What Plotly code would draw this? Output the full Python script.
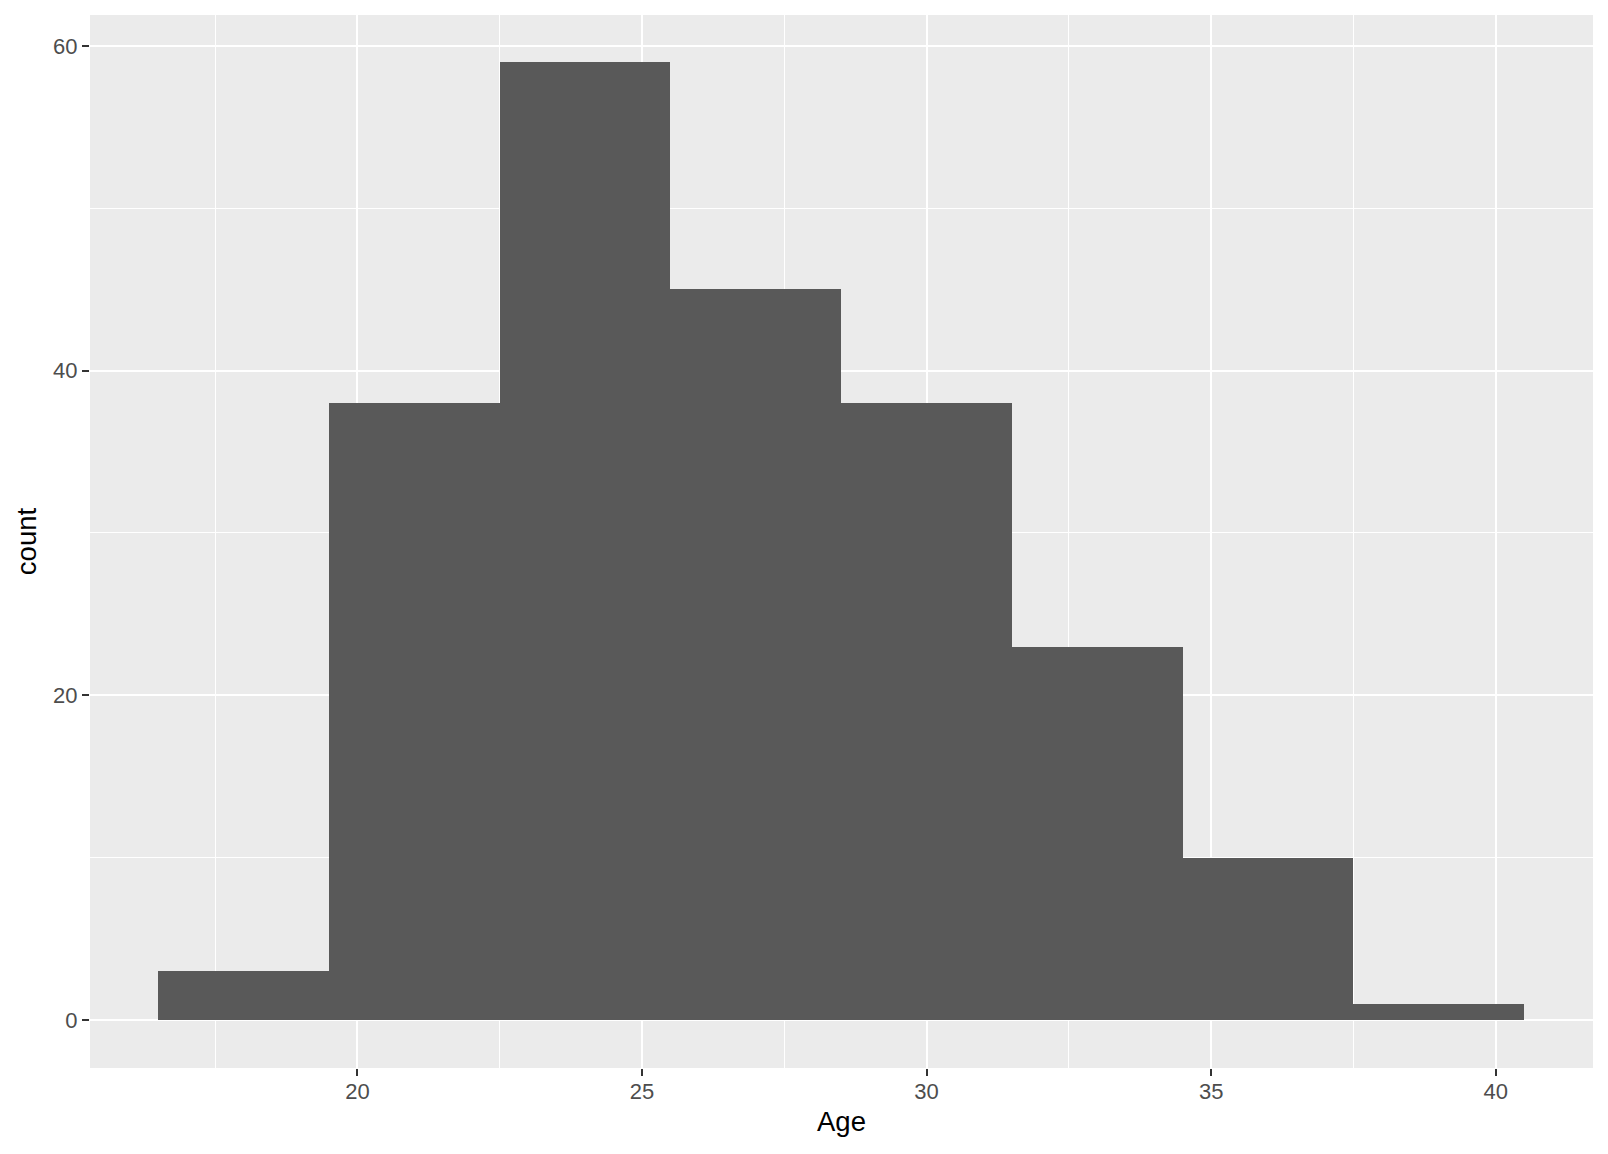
import plotly.graph_objects as go

bin_centers = [18, 21, 24, 27, 30, 33, 36, 39]
counts = [3, 38, 59, 45, 38, 23, 10, 1]
bin_width = 3
x_ticks = [20, 25, 30, 35, 40]
y_ticks = [0, 20, 40, 60]

fig = go.Figure(go.Bar(
    x=bin_centers, y=counts, width=[bin_width] * len(bin_centers),
    marker=dict(color="#595959", line=dict(width=0)),
    showlegend=False,
))

fig.update_layout(
    width=1608, height=1154,
    margin=dict(l=90, r=15, t=15, b=86),
    paper_bgcolor="white", plot_bgcolor="#EBEBEB",
    font=dict(family="Liberation Sans, Arial, sans-serif"),
    bargap=0,
)
fig.update_xaxes(
    range=[15.30, 41.71], tickvals=x_ticks, ticktext=[str(v) for v in x_ticks],
    showgrid=True, gridcolor="white", gridwidth=2.2,
    minor=dict(tickvals=[17.5, 22.5, 27.5, 32.5, 37.5], showgrid=True, gridcolor="white", gridwidth=1.1),
    ticks="outside", ticklen=7, tickwidth=2.2, tickcolor="#333333",
    tickfont=dict(size=22, color="#4D4D4D"), ticklabelstandoff=-3,
    title=dict(text="Age", font=dict(size=27.5, color="black"), standoff=8),
    zeroline=False, showline=False,
)
fig.update_yaxes(
    range=[-2.96, 61.9], tickvals=y_ticks, ticktext=[str(v) for v in y_ticks],
    showgrid=True, gridcolor="white", gridwidth=2.2,
    minor=dict(tickvals=[10, 30, 50], showgrid=True, gridcolor="white", gridwidth=1.1),
    ticks="outside", ticklen=7, tickwidth=2.2, tickcolor="#333333",
    tickfont=dict(size=22, color="#4D4D4D"), ticklabelstandoff=0,
    title=dict(text="count", font=dict(size=27.5, color="black"), standoff=8),
    zeroline=False, showline=False,
)

fig.write_html("out.html", config={"displayModeBar": False},
               post_script="document.body.style.margin='0';")
